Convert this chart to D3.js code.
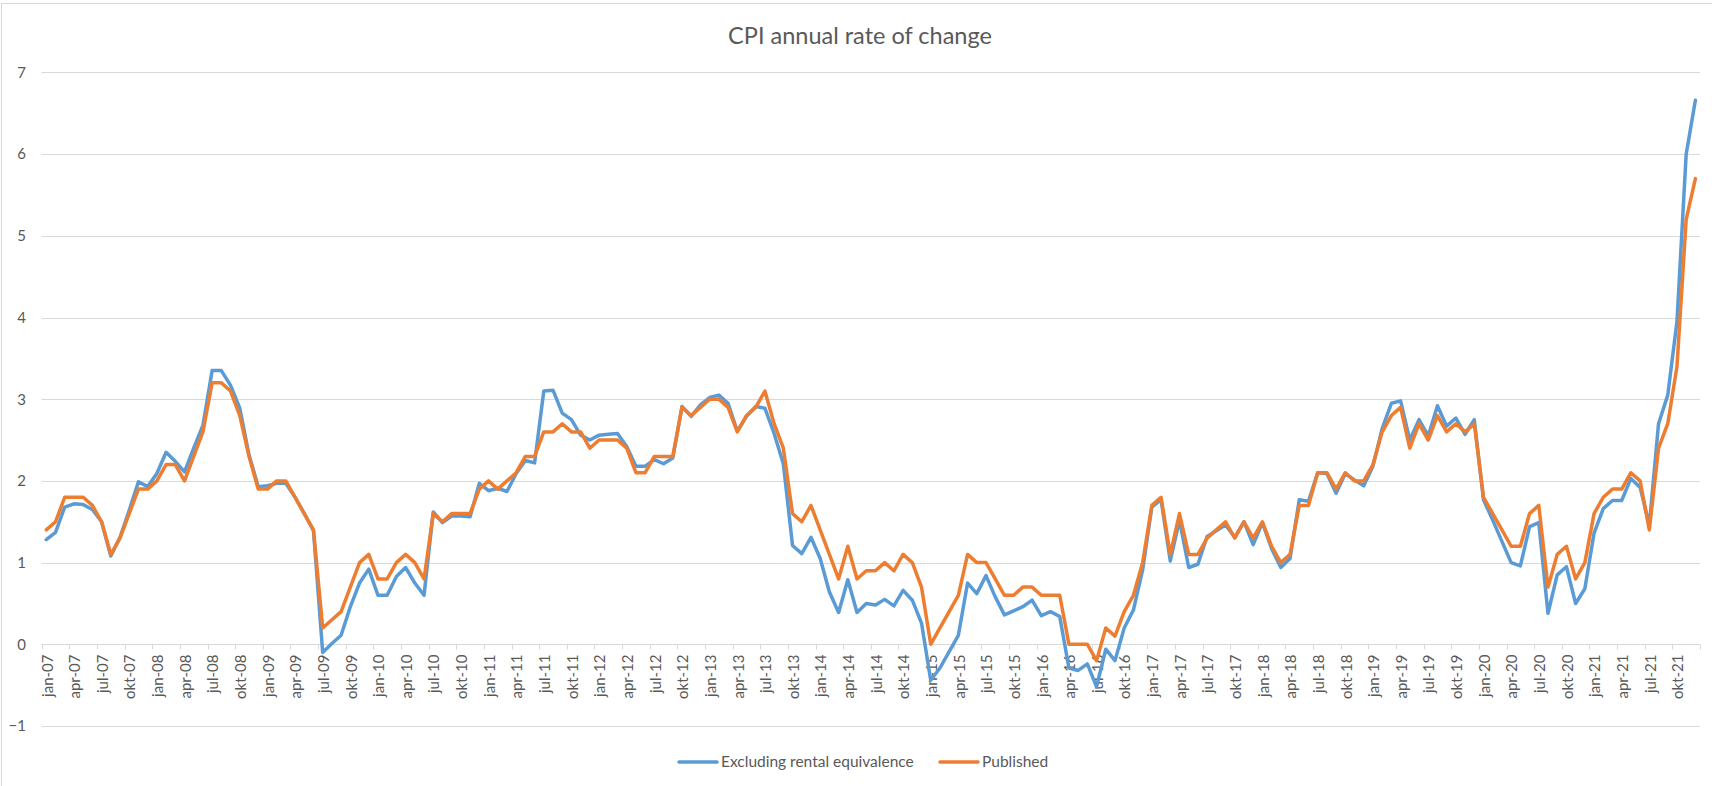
<!DOCTYPE html>
<html>
<head>
<meta charset="utf-8">
<script src="https://cdn.jsdelivr.net/npm/d3@7"></script>
<style>
	body { margin: 0; background: #fff; }
	svg { display: block; font-family: Lato, 'Liberation Sans', sans-serif; }
</style>
</head>
<body>
<svg id="chart" width="1712" height="786"></svg>
<script>
const monthNames = ['jan', 'feb', 'mar', 'apr', 'mai', 'jun', 'jul', 'aug', 'sep', 'okt', 'nov', 'des'];
const years = ['07', '08', '09', '10', '11', '12', '13', '14', '15', '16', '17', '18', '19', '20', '21'];
const categories = years.flatMap(y => monthNames.map(m => `${m}-${y}`));

// Excluding rental equivalence, one value per month jan-07 .. des-21
const exclRental = [
	1.28, 1.37, 1.68, 1.72, 1.71, 1.65, 1.50, 1.08, 1.31, 1.64, 1.99, 1.93,
	2.09, 2.35, 2.24, 2.11, 2.40, 2.68, 3.35, 3.35, 3.17, 2.89, 2.32, 1.93,
	1.94, 1.97, 1.97, 1.80, 1.60, 1.39, -0.10, 0.01, 0.11, 0.46, 0.75, 0.92,
	0.60, 0.60, 0.83, 0.94, 0.75, 0.60, 1.62, 1.49, 1.57, 1.57, 1.56, 1.97,
	1.88, 1.91, 1.87, 2.09, 2.25, 2.22, 3.10, 3.11, 2.83, 2.75, 2.56, 2.50,
	2.56, 2.57, 2.58, 2.42, 2.18, 2.18, 2.26, 2.21, 2.28, 2.91, 2.79, 2.93,
	3.02, 3.05, 2.95, 2.61, 2.79, 2.91, 2.89, 2.58, 2.21, 1.21, 1.11, 1.31,
	1.05, 0.64, 0.39, 0.79, 0.39, 0.50, 0.48, 0.55, 0.47, 0.66, 0.54, 0.26,
	-0.44, -0.29, -0.09, 0.11, 0.75, 0.62, 0.84, 0.58, 0.36, 0.41, 0.46, 0.54,
	0.35, 0.40, 0.34, -0.29, -0.32, -0.24, -0.52, -0.06, -0.20, 0.20, 0.42, 0.91,
	1.68, 1.77, 1.02, 1.52, 0.94, 0.98, 1.32, 1.39, 1.46, 1.31, 1.50, 1.22,
	1.49, 1.17, 0.94, 1.05, 1.77, 1.75, 2.10, 2.09, 1.85, 2.09, 2.01, 1.94,
	2.18, 2.64, 2.95, 2.98, 2.50, 2.75, 2.55, 2.92, 2.67, 2.77, 2.57, 2.75,
	1.77, 1.52, 1.26, 1.00, 0.96, 1.44, 1.49, 0.38, 0.85, 0.95, 0.50, 0.68,
	1.36, 1.66, 1.76, 1.76, 2.03, 1.92, 1.46, 2.70, 3.05, 3.95, 6.00, 6.66
];

// Published
const published = [
	1.4, 1.5, 1.8, 1.8, 1.8, 1.7, 1.5, 1.1, 1.3, 1.6, 1.9, 1.9,
	2.0, 2.2, 2.2, 2.0, 2.3, 2.6, 3.2, 3.2, 3.1, 2.8, 2.3, 1.9,
	1.9, 2.0, 2.0, 1.8, 1.6, 1.4, 0.2, 0.3, 0.4, 0.7, 1.0, 1.1,
	0.8, 0.8, 1.0, 1.1, 1.0, 0.8, 1.6, 1.5, 1.6, 1.6, 1.6, 1.9,
	2.0, 1.9, 2.0, 2.1, 2.3, 2.3, 2.6, 2.6, 2.7, 2.6, 2.6, 2.4,
	2.5, 2.5, 2.5, 2.4, 2.1, 2.1, 2.3, 2.3, 2.3, 2.9, 2.8, 2.9,
	3.0, 3.0, 2.9, 2.6, 2.8, 2.9, 3.1, 2.7, 2.4, 1.6, 1.5, 1.7,
	1.4, 1.1, 0.8, 1.2, 0.8, 0.9, 0.9, 1.0, 0.9, 1.1, 1.0, 0.7,
	0.0, 0.2, 0.4, 0.6, 1.1, 1.0, 1.0, 0.8, 0.6, 0.6, 0.7, 0.7,
	0.6, 0.6, 0.6, 0.0, 0.0, 0.0, -0.2, 0.2, 0.1, 0.4, 0.6, 1.0,
	1.7, 1.8, 1.1, 1.6, 1.1, 1.1, 1.3, 1.4, 1.5, 1.3, 1.5, 1.3,
	1.5, 1.2, 1.0, 1.1, 1.7, 1.7, 2.1, 2.1, 1.9, 2.1, 2.0, 2.0,
	2.2, 2.6, 2.8, 2.9, 2.4, 2.7, 2.5, 2.8, 2.6, 2.7, 2.6, 2.7,
	1.8, 1.6, 1.4, 1.2, 1.2, 1.6, 1.7, 0.7, 1.1, 1.2, 0.8, 1.0,
	1.6, 1.8, 1.9, 1.9, 2.1, 2.0, 1.4, 2.4, 2.7, 3.4, 5.2, 5.7
];

const yTicks = [-1, 0, 1, 2, 3, 4, 5, 6, 7];
const seriesNames = ['Excluding rental equivalence', 'Published'];
const seriesColors = ['#5B9BD5', '#ED7D31'];
const title = 'CPI annual rate of change';

const W = 1712, H = 786;
const plot = { left: 41.7, right: 1700, top: 72.4, bottom: 726 };
const textColor = '#595959';
const gridColor = '#d9d9d9';

const svg = d3.select('#chart');

// chart frame
svg.append('rect')
	.attr('x', 1.5).attr('y', 3.5)
	.attr('width', W + 20).attr('height', H + 20)
	.attr('fill', 'none')
	.attr('stroke', gridColor);

const x = d3.scaleBand().domain(categories).range([plot.left, plot.right]).padding(0);
const y = d3.scaleLinear().domain([-1, 7]).range([plot.bottom, plot.top]);
const cx = c => x(c) + x.bandwidth() / 2;

// gridlines
svg.append('g')
	.selectAll('line')
	.data(yTicks)
	.enter()
		.append('line')
		.attr('x1', plot.left).attr('x2', plot.right)
		.attr('y1', d => Math.round(y(d)) + 0.5)
		.attr('y2', d => Math.round(y(d)) + 0.5)
		.attr('stroke', gridColor)
		.attr('stroke-width', 1);

// y labels
const yAxis = svg.append('g')
	.attr('transform', `translate(26,0)`)
	.call(d3.axisLeft(y).tickValues(yTicks).tickSize(0).tickPadding(0).tickFormat(d3.format('d')));
yAxis.select('.domain').remove();
yAxis.selectAll('text')
	.attr('fill', textColor)
	.style('font-size', '15px')
	.style('font-family', 'Lato, sans-serif');

// x axis line at 0 + ticks at group boundaries
const y0 = Math.round(y(0)) + 0.5;
const tickCats = categories.filter((c, i) => i % 3 === 0);
const tickPos = tickCats.map(c => x(c)).concat([plot.right]);
const xg = svg.append('g');
xg.selectAll('line.tick-mark')
	.data(tickPos)
	.enter()
		.append('line')
		.attr('x1', d => Math.round(d) + 0.5).attr('x2', d => Math.round(d) + 0.5)
		.attr('y1', y0).attr('y2', y0 + 5)
		.attr('stroke', gridColor);

const xAxis = svg.append('g')
	.attr('transform', `translate(0,${y0})`)
	.call(d3.axisBottom(x).tickValues(tickCats).tickSize(0).tickPadding(0));
xAxis.select('.domain').remove();
xAxis.selectAll('.tick')
	.attr('transform', d => `translate(${cx(d) + 1},0)`);
xAxis.selectAll('text')
	.attr('transform', 'rotate(-90)')
	.attr('text-anchor', 'end')
	.attr('x', -10)
	.attr('y', 0)
	.attr('dy', '0.35em')
	.attr('fill', textColor)
	.style('font-size', '15px')
	.style('font-family', 'Lato, sans-serif');

// series lines
const line = d3.line()
	.x((d, i) => cx(categories[i]))
	.y(d => y(d));

[exclRental, published].forEach((data, k) => {
	svg.append('path')
		.datum(data)
		.attr('d', line)
		.attr('fill', 'none')
		.attr('stroke', seriesColors[k])
		.attr('stroke-width', 3.5)
		.attr('stroke-linejoin', 'round')
		.attr('stroke-linecap', 'round');
});

// title
svg.append('text')
	.attr('x', 860).attr('y', 44)
	.attr('text-anchor', 'middle')
	.attr('fill', textColor)
	.style('font-size', '23.5px')
	.text(title);

// legend
const legendX = [679, 940];
const legendY = 762;
const lg = svg.append('g');
seriesNames.forEach((name, k) => {
	lg.append('line')
		.attr('x1', legendX[k]).attr('x2', legendX[k] + 38)
		.attr('y1', legendY).attr('y2', legendY)
		.attr('stroke', seriesColors[k])
		.attr('stroke-width', 3.5)
		.attr('stroke-linecap', 'round');
	lg.append('text')
		.attr('x', legendX[k] + 42).attr('y', legendY)
		.attr('dy', '0.35em')
		.attr('fill', textColor)
		.style('font-size', '15.5px')
		.text(name);
});
</script>
</body>
</html>
